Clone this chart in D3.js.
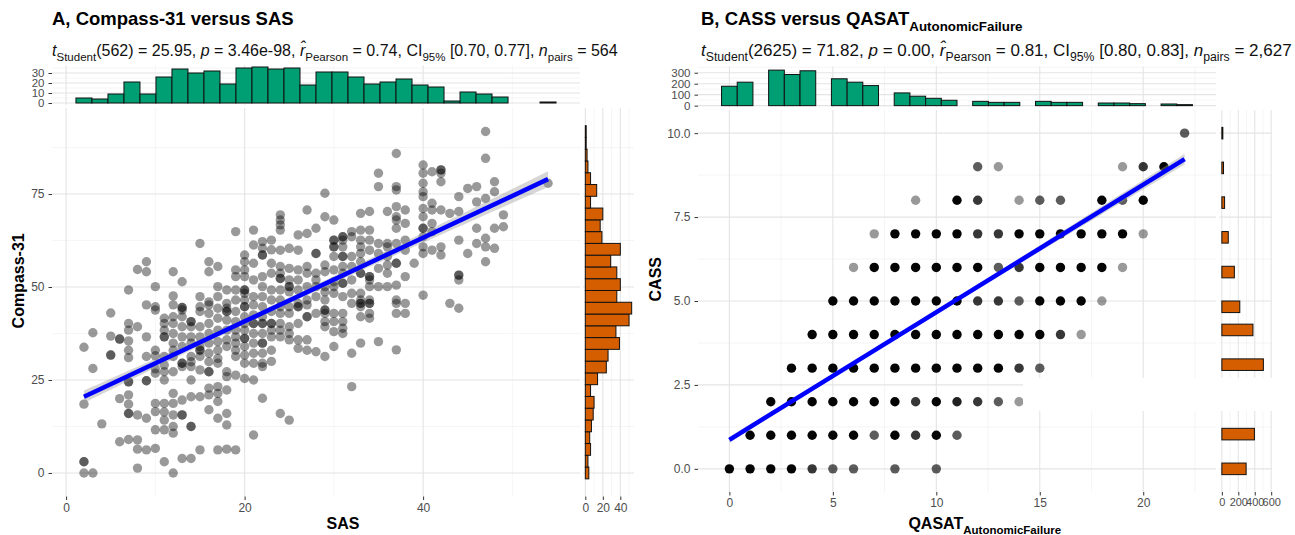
<!DOCTYPE html>
<html>
<head>
<meta charset="utf-8">
<script src="https://cdn.jsdelivr.net/npm/d3@7"></script>
<style>
  body { margin: 0; background: #fff; }
  text { font-family: "Liberation Sans", Arial, Helvetica, sans-serif; }
</style>
</head>
<body>
<svg id="chart" width="1295" height="535"></svg>
<script>
// ---- panel A data: SAS value -> Compass-31 scores ----
var compassBySas = [
  [2, [0, 3, 3, 18.5, 33.8]],
  [3, [0, 28.1, 37.7]],
  [4, [13.2]],
  [5, [43, 36.8, 31.7, 31.7]],
  [6, [36, 36, 20, 8.4]],
  [7, [49.2, 40.2, 38.4, 35.5, 33, 31, 24.5, 24.5, 21, 18.5, 16, 16, 9]],
  [8, [54.7, 39.3, 15.6, 8.9, 6.4, 1.3]],
  [9, [56.8, 54.1, 45.2, 36.6, 31.3, 24.8, 24.8, 14.7, 6.2]],
  [10, [50.1, 44.7, 43.8, 33, 31.5, 28, 26.8, 18.7, 16.5, 11.6, 6.6]],
  [11, [41.6, 40.2, 38.4, 36.6, 36.6, 31.3, 29, 27.2, 25, 18.7, 16.4, 14.2, 11.6, 3]],
  [12, [54.1, 47.6, 45.2, 42, 40.2, 37.5, 34.9, 33, 31.3, 27.2, 21.4, 18.7, 15.6, 12.5, 10.7, 0]],
  [13, [51.4, 44.5, 44.5, 43.8, 42, 39.3, 36.6, 34, 29.5, 29.5, 28.6, 19.6, 15.6, 15.6, 3.9]],
  [14, [40.7, 40.7, 39.3, 36.6, 34.9, 31.3, 29.9, 28.6, 25, 20.5, 12.5, 12.5, 3.9]],
  [15, [61.7, 47.4, 44.7, 43.4, 39.3, 36.6, 34, 33, 33, 31.3, 27.7, 20.5, 6.2]],
  [16, [56.8, 54.1, 46, 45.2, 42.9, 40.2, 37.5, 34.9, 32.2, 29.9, 27.2, 27.2, 22.8, 21, 17]],
  [17, [55.5, 50.1, 47.4, 44.3, 41.6, 38.4, 35.3, 33, 30.8, 29.5, 23.2, 21.4, 19.2, 14.7, 6.2]],
  [18, [49.2, 45.6, 44.3, 43.4, 43.4, 41.1, 38.4, 35.8, 34, 27.2, 25.9, 22.3, 16, 12.9, 6.4]],
  [19, [64.9, 54.6, 52.8, 49.2, 46.5, 43.4, 40.7, 38.4, 36.6, 34.9, 33, 31.3, 26.3, 6.2]],
  [20, [58.6, 56.8, 54.6, 52.8, 49.2, 49.2, 48.3, 46.5, 44.7, 44.7, 42, 40.2, 38.4, 36.2, 36.2, 34, 31.7, 29.5, 25.4]],
  [21, [65.3, 61.3, 56.4, 51.9, 47.4, 45.2, 42.5, 40.2, 40.2, 37.5, 34.9, 32.2, 29.5, 25, 10.2]],
  [22, [62.2, 60.4, 58.6, 58.6, 52.8, 50.1, 47.4, 44.7, 42, 40.2, 40.2, 37.5, 34.9, 34.9, 32.2, 29.5, 28.6, 20.1]],
  [23, [62.6, 60, 56.4, 53.7, 49.2, 46.5, 43.4, 40.2, 40.2, 38.4, 36.6, 33, 30]],
  [24, [69.4, 68, 66.7, 65.3, 59.9, 55.5, 53.7, 52.3, 52.3, 49.2, 46.5, 44.7, 42.9, 40.2, 38.4, 36.6, 16]],
  [25, [60.4, 55, 51.9, 50.1, 50.1, 48.7, 44.7, 42.9, 39.3, 37.5, 35.8, 14.2]],
  [26, [64, 59.9, 54.6, 51.9, 49.2, 45.6, 44.7, 44.7, 40.2, 35.8, 33.5]],
  [27, [70.7, 64.4, 55.5, 53.7, 50.1, 46.5, 45.2, 42, 42, 35.8, 33]],
  [28, [65.8, 59, 59, 53.7, 51.9, 50.1, 47.4, 42.9, 32.6]],
  [29, [75.2, 68.9, 55.9, 54.1, 50.1, 48.7, 46.5, 43.8, 43.8, 42.9, 40.7, 39.3, 31.3]],
  [30, [68, 62.6, 62.6, 60.8, 60.8, 58.2, 54.6, 51.4, 50.1, 48.3, 42.9, 40.7, 38, 34]],
  [31, [63.5, 63.5, 62.6, 60.8, 58.2, 58.2, 55.5, 53.7, 51, 51, 47.4, 42.9, 40.7, 38.9, 37.5]],
  [32, [64.9, 63.5, 58.2, 55.5, 51.9, 48.3, 45.6, 32.2, 23.2]],
  [33, [69.8, 65.3, 62.6, 60.8, 59, 56.8, 53.7, 53.7, 48.3, 46.5, 45.6, 45.6, 44.7, 42, 34.9]],
  [34, [70.3, 65.3, 62.6, 59.9, 52.8, 52.8, 51.9, 50.1, 46.5, 45.6, 45.6, 42.9, 41.6]],
  [35, [80.6, 77, 61.7, 59, 55, 50.1, 35.3]],
  [36, [70.3, 61.7, 60.8, 58.2, 55.9, 53.7, 50.1]],
  [37, [85.9, 77, 76.1, 71.6, 68.9, 68, 65.8, 61.7, 56.4, 56.4, 50.5, 46.5, 45.6, 42.9, 33.1]],
  [38, [70.7, 67.1, 62.6, 59.9, 52.8, 45.6, 42.9]],
  [39, [56.4]],
  [40, [82.8, 80.6, 77.9, 75.6, 74.3, 71.1, 68.9, 65.8, 65.8, 63.5, 60.8, 59, 47.8]],
  [41, [81, 72.5, 70.7, 67.1, 64.9, 59.9]],
  [42, [81.5, 81.5, 80.6, 78.3, 70.7, 60.8, 58.6]],
  [43, [69.8, 45.6]],
  [44, [74.3, 70.3, 62.6, 53.2, 53.2, 51.9, 44.3]],
  [45, [76.5, 59]],
  [46, [77, 72.9, 65.8, 61.7]],
  [47, [91.8, 84.6, 73.8, 63.1, 60.8, 56.8]],
  [48, [78.3, 75.6, 65.8, 60.4]],
  [49, [69.4, 66.2]],
  [54, [77.9]]
];
// marginal histograms, 30 bins each (counts)
var sasHist = [5, 4, 9, 21, 9, 26, 34, 30, 32, 19, 35, 36, 34, 35, 18, 31, 31, 26, 19, 21, 24, 18, 16, 2, 11, 9, 6, 0, 0, 1];
var compassHist = [4, 3, 6, 5, 7, 9, 10, 6, 14, 24, 26, 39, 35, 50, 53, 36, 40, 36, 29, 40, 19, 17, 20, 6, 13, 6, 3, 2, 1, 1];
var sasRange = [2, 54], compassRange = [0, 91.8];
// fit: intercept, slope ; band: n, mean x, Sxx, residual sd
var fitA = [18.25, 1.125], bandA = [564, 24, 90000, 10];

// ---- panel B data: [QASAT, CASS, number of overlapping pairs] ----
var cassGrid = [
  [0,0,8],[1,0,8],[2,0,8],[3,0,8],[4,0,3],[5,0,2],[6,0,2],[8,0,2],[10,0,2],
  [1,1,8],[2,1,8],[3,1,8],[4,1,8],[5,1,8],[6,1,8],[7,1,2],[8,1,8],[9,1,3],[10,1,8],[11,1,2],
  [2,2,8],[3,2,8],[4,2,8],[5,2,8],[6,2,8],[7,2,8],[8,2,8],[9,2,3],[10,2,8],[11,2,4],[12,2,3],[13,2,2],[14,2,1],
  [3,3,8],[4,3,8],[5,3,8],[6,3,8],[7,3,8],[8,3,8],[9,3,8],[10,3,8],[11,3,8],[12,3,8],[13,3,8],[14,3,3],[15,3,2],
  [4,4,8],[5,4,8],[6,4,8],[7,4,8],[8,4,8],[9,4,8],[10,4,8],[11,4,8],[12,4,8],[13,4,8],[14,4,8],[15,4,8],[16,4,3],[17,4,1],
  [5,5,8],[6,5,8],[7,5,8],[8,5,8],[9,5,8],[10,5,8],[11,5,8],[12,5,3],[13,5,3],[14,5,2],[15,5,8],[16,5,8],[17,5,8],[18,5,1],
  [6,6,1],[7,6,8],[8,6,8],[9,6,8],[10,6,8],[11,6,8],[12,6,8],[13,6,2],[14,6,3],[15,6,8],[16,6,8],[17,6,8],[18,6,8],[19,6,1],
  [7,7,1],[8,7,8],[9,7,8],[10,7,8],[11,7,8],[12,7,3],[13,7,3],[14,7,8],[15,7,8],[16,7,8],[17,7,8],[18,7,8],[19,7,8],[20,7,1],
  [9,8,1],[11,8,8],[12,8,3],[14,8,1],[15,8,2],[16,8,2],[18,8,8],[19,8,2],[20,8,8],
  [12,9,2],[13,9,1],[19,9,1],[20,9,3],[21,9,8],
  [22,10,2]
];
var qasatHist = [177, 214, 0, 324, 284, 318, 0, 245, 214, 183, 0, 116, 86, 67, 49, 0, 39, 30, 30, 0, 39, 30, 30, 0, 24, 24, 18, 0, 15, 9];
var cassHist = [295, 0, 0, 396, 0, 0, 575, 0, 0, 505, 0, 0, 378, 0, 218, 0, 0, 152, 0, 0, 78, 0, 0, 33, 0, 0, 20, 0, 0, 12];
var qasatRange = [0, 22], cassRange = [0, 10];
var fitB = [0.865, 0.38], bandB = [2627, 7.5, 60000, 1.3];

var titleA = [["A, Compass-31 versus SAS", "n"]];
var subtitleA = [["t", "i"], ["Student", "s"], ["(562) = 25.95, ", "n"], ["p", "i"], [" = 3.46e-98, ", "n"],
  ["r\u0302", "i"], ["Pearson", "s"], [" = 0.74, CI", "n"], ["95%", "s"], [" [0.70, 0.77], ", "n"],
  ["n", "i"], ["pairs", "s"], [" = 564", "n"]];
var titleB = [["B, CASS versus QASAT", "n"], ["AutonomicFailure", "s"]];
var subtitleB = [["t", "i"], ["Student", "s"], ["(2625) = 71.82, ", "n"], ["p", "i"], [" = 0.00, ", "n"],
  ["r\u0302", "i"], ["Pearson", "s"], [" = 0.81, CI", "n"], ["95%", "s"], [" [0.80, 0.83], ", "n"],
  ["n", "i"], ["pairs", "s"], [" = 2,627", "n"]];

var svg = d3.select("#chart");
var majorCol = "#e4e4e4", minorCol = "#f0f0f0";

// text with italic / subscript pieces
function richText(sel, parts, size) {
  var shift = 0;
  parts.forEach(function(p) {
    var t = sel.append("tspan").text(p[0]);
    var target = p[1] == "s" ? size * 0.3 : 0;
    t.attr("dy", target - shift);
    shift = target;
    if (p[1] == "s") t.style("font-size", (size * 0.72) + "px");
    if (p[1] == "i") t.style("font-style", "italic");
  });
}

function gridLines(g, x, y, xs, ys, cls) {
  var col = cls == "minor" ? minorCol : majorCol, w = cls == "minor" ? 0.7 : 1.1;
  var xr = x.range(), yr = y.range();
  g.selectAll(null).data(xs).enter().append("line")
    .attr("x1", function(d) { return x(d); }).attr("x2", function(d) { return x(d); })
    .attr("y1", yr[0]).attr("y2", yr[1]).attr("stroke", col).attr("stroke-width", w);
  g.selectAll(null).data(ys).enter().append("line")
    .attr("y1", function(d) { return y(d); }).attr("y2", function(d) { return y(d); })
    .attr("x1", xr[0]).attr("x2", xr[1]).attr("stroke", col).attr("stroke-width", w);
}

function styleAxis(g, size) {
  g.select(".domain").remove();
  g.selectAll(".tick line").attr("stroke", "#333").attr("stroke-width", 1);
  g.selectAll(".tick text").attr("fill", "#4d4d4d").style("font-size", size + "px");
}

function panel(o) {
  var g = svg.append("g");
  // main scatter
  gridLines(g, o.x, o.y, o.xMinor, o.yMinor, "minor");
  gridLines(g, o.x, o.y, o.xMajor, o.yMajor, "major");
  // top histogram
  gridLines(g, o.x, o.yTop, o.xMinor, o.topMinor, "minor");
  gridLines(g, o.x, o.yTop, o.xMajor, o.topMajor, "major");
  // right histogram
  gridLines(g, o.xRight, o.y, o.rightMinor, o.yMinor, "minor");
  gridLines(g, o.xRight, o.y, o.rightMajor, o.yMajor, "major");

  var bwX = (o.xRange[1] - o.xRange[0]) / 29, bwY = (o.yRange[1] - o.yRange[0]) / 29;
  g.append("g").selectAll("rect").data(o.topCounts).enter().append("rect")
    .attr("x", function(d, i) { return o.x(o.xRange[0] + (i - 0.5) * bwX); })
    .attr("width", o.x(bwX) - o.x(0))
    .attr("y", function(d) { return o.yTop(d); })
    .attr("height", function(d) { return o.yTop(0) - o.yTop(d); })
    .attr("fill", "#009E73").attr("stroke", "#111").attr("stroke-width", 1);
  g.append("g").selectAll("rect").data(o.rightCounts).enter().append("rect")
    .attr("y", function(d, i) { return o.y(o.yRange[0] + (i + 0.5) * bwY); })
    .attr("height", o.y(0) - o.y(bwY))
    .attr("x", o.xRight(0))
    .attr("width", function(d) { return o.xRight(d) - o.xRight(0); })
    .attr("fill", "#D55E00").attr("stroke", "#111").attr("stroke-width", 1);

  // points
  g.append("g").selectAll("circle").data(o.points).enter().append("circle")
    .attr("cx", function(d) { return o.x(d[0]); })
    .attr("cy", function(d) { return o.y(d[1]); })
    .attr("r", 4.7)
    .attr("fill", "#000")
    .attr("fill-opacity", function(d) { return 1 - Math.pow(0.6, d[2]); });

  // fit line and confidence band
  var xs = d3.range(o.xRange[0], o.xRange[1] + 0.001, (o.xRange[1] - o.xRange[0]) / 60);
  var half = function(v) { return 1.96 * o.band[3] * Math.sqrt(1 / o.band[0] + Math.pow(v - o.band[1], 2) / o.band[2]); };
  var fit = function(v) { return o.fit[0] + o.fit[1] * v; };
  g.append("path").datum(xs)
    .attr("d", d3.area().x(function(v) { return o.x(v); })
      .y0(function(v) { return o.y(fit(v) - half(v)); })
      .y1(function(v) { return o.y(fit(v) + half(v)); }))
    .attr("fill", "#999").attr("fill-opacity", 0.4);
  g.append("line")
    .attr("x1", o.x(o.xRange[0])).attr("y1", o.y(fit(o.xRange[0])))
    .attr("x2", o.x(o.xRange[1])).attr("y2", o.y(fit(o.xRange[1])))
    .attr("stroke", "#0000ff").attr("stroke-width", 4.5);

  // axes
  var xr = o.x.range(), yr = o.y.range();
  styleAxis(g.append("g").attr("transform", "translate(0," + yr[0] + ")")
    .call(d3.axisBottom(o.x).tickValues(o.xMajor).tickSize(3.5).tickPadding(3)), 12);
  styleAxis(g.append("g").attr("transform", "translate(" + xr[0] + ",0)")
    .call(d3.axisLeft(o.y).tickValues(o.yMajor).tickSize(3.5).tickPadding(4).tickFormat(o.yFormat)), 12);
  styleAxis(g.append("g").attr("transform", "translate(" + xr[0] + ",0)")
    .call(d3.axisLeft(o.yTop).tickValues(o.topMajor).tickSize(3.5).tickPadding(4)), 11.5);
  styleAxis(g.append("g").attr("transform", "translate(0," + yr[0] + ")")
    .call(d3.axisBottom(o.xRight).tickValues(o.rightMajor).tickSize(3.5).tickPadding(3)), o.rightTickSize);

  // titles; axis titles are centred on main panel plus margin
  var xMid = (xr[0] + o.xRight.range()[1]) / 2, yMid = (o.yTop.range()[1] + yr[0]) / 2;
  richText(g.append("text").attr("x", o.titleX).attr("y", 25)
    .style("font-size", "18.5px").style("font-weight", "bold"), o.title, 18.5);
  richText(g.append("text").attr("x", o.titleX).attr("y", 56)
    .style("font-size", o.subSize + "px").attr("fill", "#111"), o.subtitle, o.subSize);
  richText(g.append("text").attr("text-anchor", "middle")
    .attr("x", xMid).attr("y", 529)
    .style("font-size", "16px").style("font-weight", "bold"), o.xLabel, 16);
  g.append("text").attr("text-anchor", "middle")
    .attr("transform", "translate(" + o.yLabelX + "," + yMid + ") rotate(-90)")
    .style("font-size", "16px").style("font-weight", "bold").text(o.yLabel);
  return g;
}

// ---- panel A ----
var pointsA = [];
compassBySas.forEach(function(c) { c[1].forEach(function(v) { pointsA.push([c[0], v, 1]); }); });

panel({
  x: d3.scaleLinear().domain([-1.58, 57.58]).range([52, 580]),
  y: d3.scaleLinear().domain([-6.33, 98.13]).range([496.5, 108]),
  yTop: d3.scaleLinear().domain([-1.8, 37.8]).range([104.8, 65.2]),
  xRight: d3.scaleLinear().domain([-2.65, 55.65]).range([583, 634]),
  xMajor: [0, 20, 40], xMinor: [10, 30, 50],
  yMajor: [0, 25, 50, 75], yMinor: [12.5, 37.5, 62.5, 87.5],
  topMajor: [0, 10, 20, 30], topMinor: [5, 15, 25, 35],
  rightMajor: [0, 20, 40], rightMinor: [10, 30, 50], rightTickSize: 12,
  xRange: sasRange, yRange: compassRange,
  topCounts: sasHist, rightCounts: compassHist,
  points: pointsA, fit: fitA, band: bandA,
  yFormat: d3.format("d"),
  title: titleA, subtitle: subtitleA, titleX: 52, subSize: 16,
  xLabel: [["SAS", "n"]], yLabel: "Compass-31", yLabelX: 24
});

// ---- panel B ----
panel({
  x: d3.scaleLinear().domain([-1.517, 23.517]).range([698, 1216]),
  y: d3.scaleLinear().domain([-0.69, 10.69]).range([492, 110]),
  yTop: d3.scaleLinear().domain([-17, 357]).range([107.5, 66.5]),
  xRight: d3.scaleLinear().domain([-28.75, 603.75]).range([1219.5, 1271.5]),
  xMajor: [0, 5, 10, 15, 20], xMinor: [2.5, 7.5, 12.5, 17.5, 22.5],
  yMajor: [0, 2.5, 5, 7.5, 10], yMinor: [1.25, 3.75, 6.25, 8.75],
  topMajor: [0, 100, 200, 300], topMinor: [50, 150, 250, 350],
  rightMajor: [0, 200, 400, 600], rightMinor: [100, 300, 500], rightTickSize: 11,
  xRange: qasatRange, yRange: cassRange,
  topCounts: qasatHist, rightCounts: cassHist,
  points: cassGrid, fit: fitB, band: bandB,
  yFormat: d3.format(".1f"),
  title: titleB, subtitle: subtitleB, titleX: 701, subSize: 17,
  xLabel: [["QASAT", "n"], ["AutonomicFailure", "s"]], yLabel: "CASS", yLabelX: 661
});

// blank strip present in the original figure
svg.append("rect").attr("x", 1023).attr("y", 378).attr("width", 272).attr("height", 33).attr("fill", "#fff");
</script>
</body>
</html>
